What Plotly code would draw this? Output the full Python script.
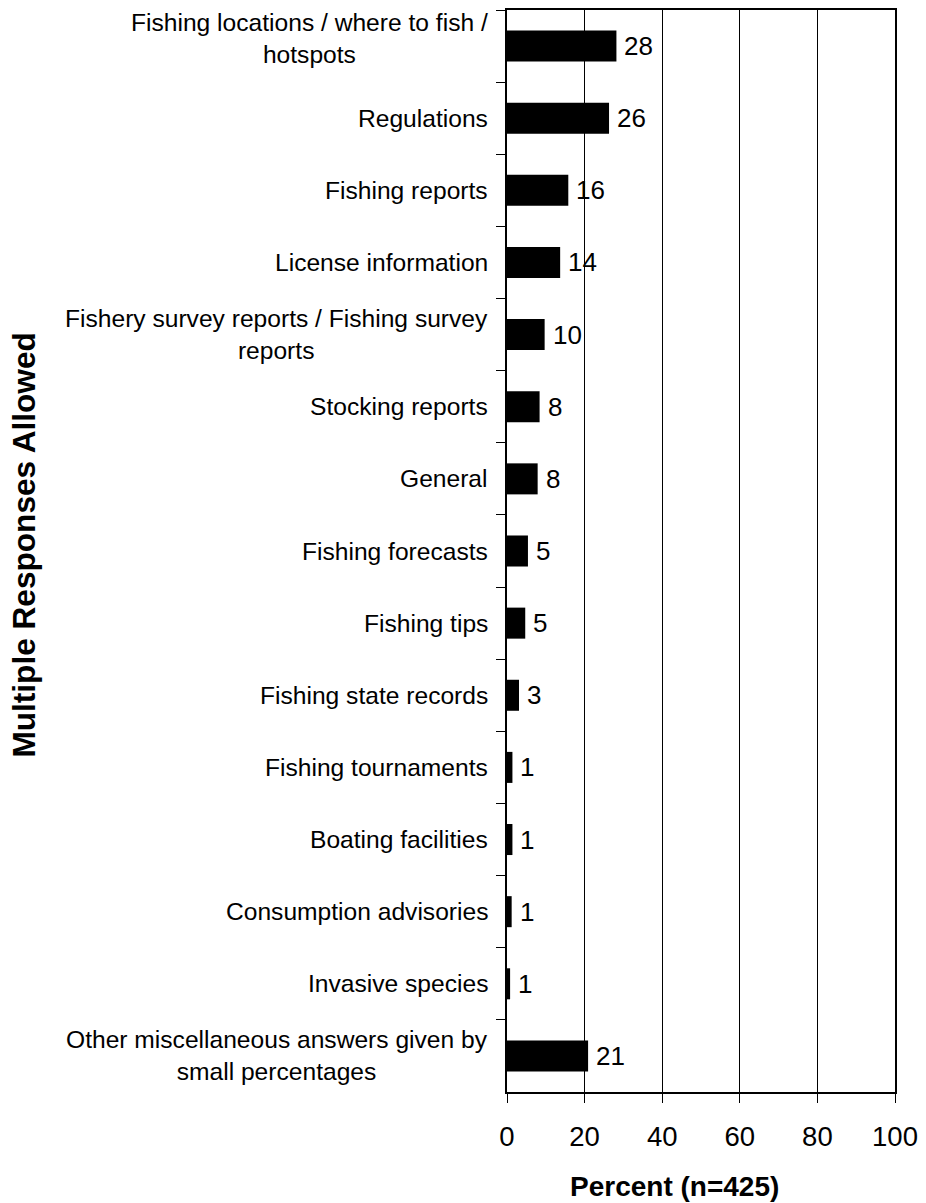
import plotly.graph_objects as go

categories = [
    "Fishing locations / where to fish /<br>hotspots",
    "Regulations",
    "Fishing reports",
    "License information",
    "Fishery survey reports / Fishing survey<br>reports",
    "Stocking reports",
    "General",
    "Fishing forecasts",
    "Fishing tips",
    "Fishing state records",
    "Fishing tournaments",
    "Boating facilities",
    "Consumption advisories",
    "Invasive species",
    "Other miscellaneous answers given by<br>small percentages",
]
percent = [28.2, 26.3, 15.8, 13.7, 9.7, 8.4, 7.9, 5.4, 4.7, 3.1, 1.4, 1.4, 1.2, 0.8, 20.9]
value_labels = ["28", "26", "16", "14", "10", "8", "8", "5", "5", "3", "1", "1", "1", "1", "21"]
x_ticks = [0, 20, 40, 60, 80, 100]
x_title = "Percent (n=425)"
y_title = "Multiple Responses Allowed"

FONT = "Liberation Sans, Arial, sans-serif"

fig = go.Figure()
fig.add_trace(go.Bar(
    x=percent, y=categories, orientation="h",
    marker=dict(color="black", line=dict(width=0)),
    width=0.43, hoverinfo="skip",
))

annotations = []
# value labels
for c, v, t in zip(categories, percent, value_labels):
    annotations.append(dict(
        x=v, y=c, xref="x", yref="y", text=t, showarrow=False,
        xanchor="left", yanchor="middle", xshift=6,
        font=dict(family=FONT, size=26, color="black"),
    ))
# category labels (centered multi-line, right anchored)
for i, c in enumerate(categories):
    annotations.append(dict(
        x=0, y=c, xref="paper", yref="y", text=c, showarrow=False,
        xanchor="right", yanchor="middle", align="center", xshift=-17,
        yshift=8 if i == 0 else 0,
        font=dict(family=FONT, size=24.6, color="black"),
    ))
# axis titles
annotations.append(dict(
    x=0.432, y=0, xref="paper", yref="paper", text="<b>" + x_title + "</b>",
    showarrow=False, xanchor="center", yanchor="middle", yshift=-94,
    font=dict(family=FONT, size=28, color="black"),
))
annotations.append(dict(
    x=0, y=0.505, xref="paper", yref="paper", text="<b>" + y_title + "</b>",
    showarrow=False, xanchor="center", yanchor="middle", xshift=-483,
    textangle=-90,
    font=dict(family=FONT, size=31.6, color="black"),
))

fig.update_layout(
    width=926, height=1203,
    margin=dict(l=507, r=27, t=8, b=111, pad=0),
    paper_bgcolor="white", plot_bgcolor="white",
    showlegend=False,
    annotations=annotations,
    font=dict(family=FONT, color="black"),
)
fig.update_xaxes(
    range=[0, 100], tickvals=x_ticks, ticktext=[str(t) for t in x_ticks],
    showgrid=True, gridcolor="black", gridwidth=1,
    showline=True, linecolor="black", linewidth=2, mirror=True,
    ticks="outside", ticklen=9, tickwidth=1, tickcolor="black",
    ticklabelstandoff=10,
    tickfont=dict(family=FONT, size=27.5, color="black"),
    zeroline=False, fixedrange=True,
)
fig.update_yaxes(
    type="category", categoryorder="array", categoryarray=categories,
    range=[len(categories) - 0.5, -0.5],
    showticklabels=False, tickson="boundaries",
    ticks="outside", ticklen=9, tickwidth=1, tickcolor="black",
    showline=True, linecolor="black", linewidth=2, mirror=True,
    showgrid=False, zeroline=False, fixedrange=True,
)

fig.write_html(
    "out.html",
    config={"displayModeBar": False},
    post_script="document.body.style.margin='0px';document.body.style.overflow='hidden';",
)
